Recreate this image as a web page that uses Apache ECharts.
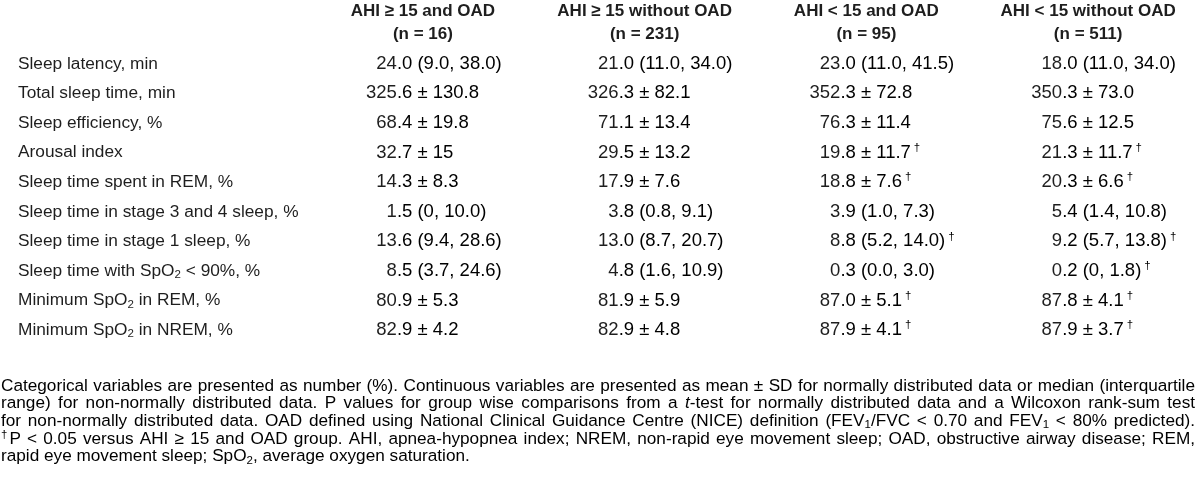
<!DOCTYPE html>
<html><head><meta charset="utf-8">
<script src="https://cdn.jsdelivr.net/npm/echarts@6/dist/echarts.min.js"></script>
<style>html,body{margin:0;padding:0;background:#fff}</style></head>
<body><div id="c" style="width:1200px;height:494px"></div>
<script>
// ---- data ----
const rowLabels = ['Sleep latency, min','Total sleep time, min','Sleep efficiency, %','Arousal index','Sleep time spent in REM, %','Sleep time in stage 3 and 4 sleep, %','Sleep time in stage 1 sleep, %','Sleep time with SpO_2 < 90%, %','Minimum SpO_2 in REM, %','Minimum SpO_2 in NREM, %'];
const groups = ['AHI ≥ 15 and OAD','AHI ≥ 15 without OAD','AHI < 15 and OAD','AHI < 15 without OAD'];
const groupN = ['(n = 16)','(n = 231)','(n = 95)','(n = 511)'];
const g1 = ['24.0 (9.0, 38.0)','325.6 ± 130.8','68.4 ± 19.8','32.7 ± 15','14.3 ± 8.3','1.5 (0, 10.0)','13.6 (9.4, 28.6)','8.5 (3.7, 24.6)','80.9 ± 5.3','82.9 ± 4.2'];
const g2 = ['21.0 (11.0, 34.0)','326.3 ± 82.1','71.1 ± 13.4','29.5 ± 13.2','17.9 ± 7.6','3.8 (0.8, 9.1)','13.0 (8.7, 20.7)','4.8 (1.6, 10.9)','81.9 ± 5.9','82.9 ± 4.8'];
const g3 = ['23.0 (11.0, 41.5)','352.3 ± 72.8','76.3 ± 11.4','19.8 ± 11.7†','18.8 ± 7.6†','3.9 (1.0, 7.3)','8.8 (5.2, 14.0)†','0.3 (0.0, 3.0)','87.0 ± 5.1†','87.9 ± 4.1†'];
const g4 = ['18.0 (11.0, 34.0)','350.3 ± 73.0','75.6 ± 12.5','21.3 ± 11.7†','20.3 ± 6.6†','5.4 (1.4, 10.8)','9.2 (5.7, 13.8)†','0.2 (0, 1.8)†','87.8 ± 4.1†','87.9 ± 3.7†'];
const footLines = [
 'Categorical variables are presented as number (%). Continuous variables are presented as mean ± SD for normally distributed data or median (interquartile',
 'range) for non-normally distributed data. P values for group wise comparisons from a *t*-test for normally distributed data and a Wilcoxon rank-sum test',
 'for non-normally distributed data. OAD defined using National Clinical Guidance Centre (NICE) definition (FEV_1/FVC < 0.70 and FEV_1 < 80% predicted).',
 '^†P < 0.05 versus AHI ≥ 15 and OAD group. AHI, apnea-hypopnea index; NREM, non-rapid eye movement sleep; OAD, obstructive airway disease; REM,',
 'rapid eye movement sleep; SpO_2, average oxygen saturation.'
];
const cols = [g1, g2, g3, g4];

// ---- style ----
const FF = '"Liberation Sans", Arial, sans-serif';
const INK = '#1e1e1e';
const LAB = 17.3, VAL = 18.5, HDR = 17, FOOT = 17.2, SMALL = 11.5;
const DEC_OFF = -26;

function richLabel(v){
  return v.split('_').map((p,i)=> i===0 ? (p?'{n|'+p+'}':'') : '{s|'+p[0]+'}'+(p.length>1?'{n|'+p.slice(1)+'}':'')).join('');
}

const cellData = [];
cols.forEach((col,c)=>col.forEach((_,r)=>cellData.push([c,r])));

const chart = echarts.init(document.getElementById('c'), null, {renderer:'canvas'});

// footnote layout (justified lines)
const cv = document.createElement('canvas').getContext('2d');
function segs(word){
  const out=[]; let it=false, buf='';
  const flush=()=>{ if(buf){out.push({k:it?'i':'n',t:buf}); buf='';} };
  for(let i=0;i<word.length;i++){
    const ch=word[i];
    if(ch==='*'){flush(); it=!it; continue;}
    if(ch==='_'||ch==='^'){flush(); out.push({k:ch==='_'?'s':'u',t:word[i+1]}); i++; continue;}
    buf+=ch;
  }
  flush(); return out;
}
function segW(s){
  const fs = (s.k==='s'||s.k==='u')?SMALL:FOOT;
  cv.font=(s.k==='i'?'italic ':'')+fs+'px '+FF;
  return cv.measureText(s.t).width + (s.k==='u'?2:0);
}
const footRich = {
  n:{fontSize:FOOT,fontFamily:FF,color:INK,lineHeight:20},
  i:{fontSize:FOOT,fontFamily:FF,color:INK,fontStyle:'italic',lineHeight:20},
  s:{fontSize:SMALL,fontFamily:FF,color:INK,lineHeight:13,verticalAlign:'bottom'},
  u:{fontSize:SMALL,fontFamily:FF,color:INK,lineHeight:13,verticalAlign:'top',padding:[0,2,0,0]}
};
const FOOT_X0 = 1, FOOT_X1 = 1195, FOOT_Y0 = 386, FOOT_DY = 17.6;
const footGraphics = [];
footLines.forEach((line,li)=>{
  const words=line.split(' ').map(w=>{const s=segs(w);return {s,w:s.reduce((a,b)=>a+segW(b),0)};});
  const total=words.reduce((a,b)=>a+b.w,0);
  cv.font=FOOT+'px '+FF;
  const sp = li<footLines.length-1 ? (FOOT_X1-FOOT_X0-total)/(words.length-1) : cv.measureText(' ').width;
  let x=FOOT_X0;
  words.forEach(wd=>{
    footGraphics.push({type:'text',x:x,y:FOOT_Y0+li*FOOT_DY,silent:true,
      style:{text:wd.s.map(s=>'{'+s.k+'|'+s.t+'}').join(''),rich:footRich,verticalAlign:'middle',align:'left'}});
    x+=wd.w+sp;
  });
});

const valRich = {
  v:{fontSize:VAL,fontFamily:FF,color:INK,lineHeight:22},
  d:{fontSize:SMALL,fontFamily:FF,color:INK,lineHeight:14,verticalAlign:'top',padding:[0,0,0,3]}
};

chart.setOption({
  backgroundColor:'#ffffff',
  animation:false,
  grid:{left:312,right:1,top:45,height:300,containLabel:false},
  xAxis:{type:'category',data:groups,position:'top',boundaryGap:true,
    axisLine:{show:false},axisTick:{show:false},splitLine:{show:false},
    axisLabel:{interval:0,margin:3,fontFamily:FF,fontSize:HDR,fontWeight:'bold',color:INK,lineHeight:23,
      formatter:(v,i)=>v+'\n'+groupN[i]}},
  yAxis:{type:'category',data:rowLabels,inverse:true,boundaryGap:true,
    axisLine:{show:false},axisTick:{show:false},splitLine:{show:false},
    axisLabel:{interval:0,align:'left',margin:294,formatter:richLabel,
      rich:{n:{fontSize:LAB,fontFamily:FF,color:INK,lineHeight:20},
            s:{fontSize:SMALL,fontFamily:FF,color:INK,lineHeight:13,verticalAlign:'bottom'}}}},
  series:[{type:'custom',data:cellData,silent:true,
    renderItem:(params,api)=>{
      const c=api.value(0), r=api.value(1);
      const p=api.coord([c,r]);
      const txt=cols[c][r];
      const dag=txt.endsWith('†');
      const body=dag?txt.slice(0,-1):txt;
      const k=body.indexOf('.');
      const x0=p[0]+DEC_OFF;
      return {type:'group',children:[
        {type:'text',x:x0,y:p[1],style:{text:body.slice(0,k),fontSize:VAL,fontFamily:FF,fill:INK,align:'right',verticalAlign:'middle'}},
        {type:'text',x:x0,y:p[1],style:{text:'{v|'+body.slice(k)+'}'+(dag?'{d|†}':''),rich:valRich,align:'left',verticalAlign:'middle'}}
      ]};
    }}],
  graphic:footGraphics
});
</script></body></html>
